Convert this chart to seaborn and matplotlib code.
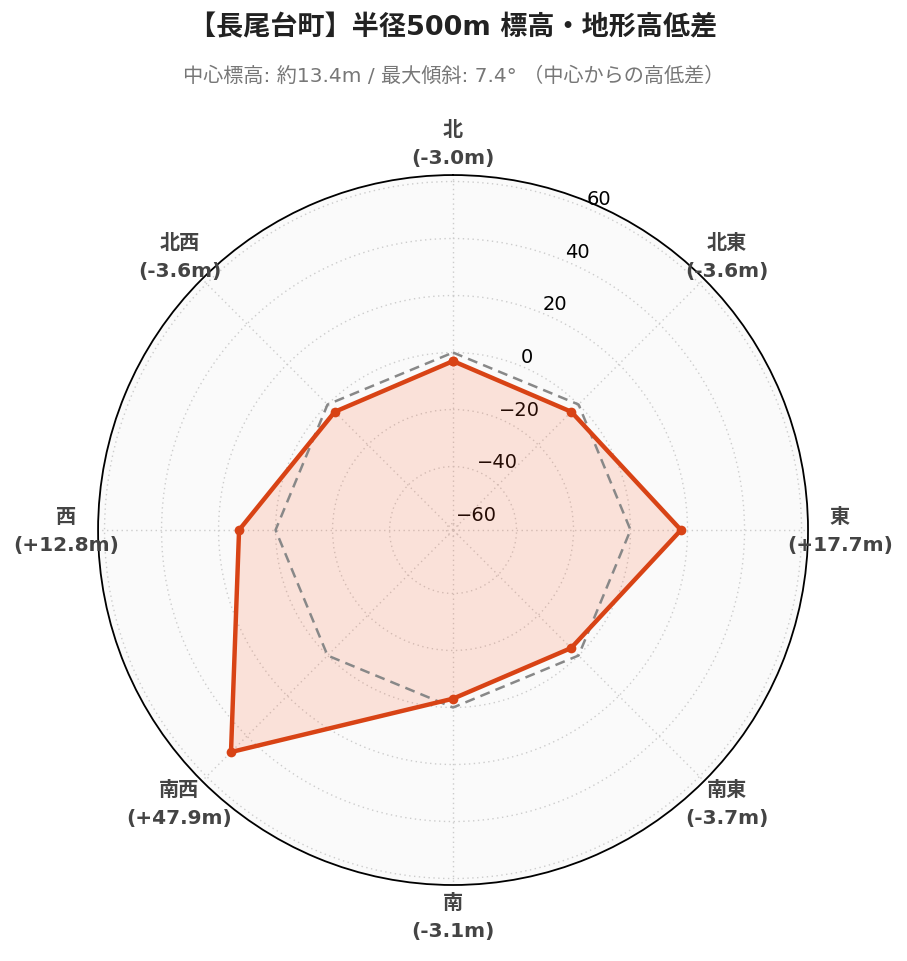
import numpy as np
import pandas as pd
import matplotlib
matplotlib.use("Agg")
import matplotlib.pyplot as plt
import seaborn as sns

# data
directions = ["北", "北東", "東", "南東", "南", "南西", "西", "北西"]
diffs = [-3.0, -3.6, 17.7, -3.7, -3.1, 47.9, 12.8, -3.6]
title = "【長尾台町】半径500m 標高・地形高低差"
subtitle = "中心標高: 約13.4m / 最大傾斜: 7.4° （中心からの高低差）"
r_ticks = [-60, -40, -20, 0, 20, 40, 60]

sns.set_style("white")
plt.rcParams["font.family"] = ["DejaVu Sans", "Noto Sans CJK JP"]

line_color = "#d84315"
rmax = max(abs(v) for v in diffs) * 1.3

theta = np.deg2rad(np.arange(len(directions)) * 45.0)
df = pd.DataFrame({"theta": np.append(theta, theta[0]),
                   "diff": diffs + [diffs[0]],
                   "zero": 0.0})

fig = plt.figure(figsize=(9.07, 9.62), dpi=100)
ax = fig.add_axes([0.108, 0.079, 0.783, 0.738], projection="polar")
ax.set_theta_zero_location("N")
ax.set_theta_direction(-1)
ax.set_facecolor("#fafafa")
ax.set_ylim(-rmax, rmax)

# reference line (0 m)
sns.lineplot(data=df, x="theta", y="zero", ax=ax, sort=False, color="#888888",
             linewidth=1.8, linestyle=(0, (4, 2.5)), estimator=None)
ax.fill(df["theta"], df["diff"], color="#ff5722", alpha=0.15, linewidth=0)
sns.lineplot(data=df, x="theta", y="diff", ax=ax, sort=False, color=line_color,
             linewidth=3.2, marker="o", markersize=7, markeredgewidth=0,
             estimator=None)

ax.set_xlabel("")
ax.set_ylabel("")
ax.set_xticks(theta)
ax.set_xticklabels([])
ax.set_yticks(r_ticks)
ax.set_yticklabels([str(t).replace("-", "\u2212") for t in r_ticks],
                   fontsize=14, color="#000000")
ax.set_rlabel_position(22.5)
ax.tick_params(axis="y", pad=0)
ax.grid(True, color="#cccccc", linestyle=(0, (1, 2.5)), linewidth=1)
ax.spines["polar"].set_color("black")
ax.spines["polar"].set_linewidth(1.3)

for t, name, v in zip(theta, directions, diffs):
    ax.text(t, rmax * 1.18, f"{name}\n({v:+.1f}m)".replace("+-", "-"),
            ha="center", va="center", fontsize=14.5, fontweight="bold",
            color="#444444", linespacing=1.6, clip_on=False)

fig.text(0.5, 0.971, title, ha="center", va="center", fontsize=19.5,
         fontweight="bold", color="#222222")
fig.text(0.5, 0.921, subtitle, ha="center", va="center", fontsize=14.5,
         color="#777777")

fig.savefig("out.png", dpi=100)
